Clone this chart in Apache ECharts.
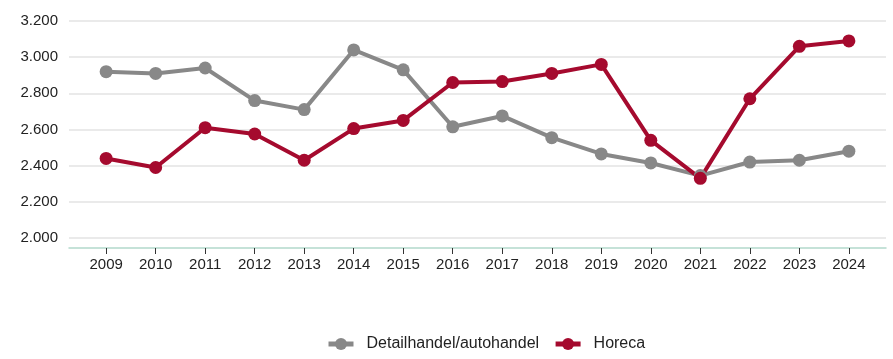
<!DOCTYPE html>
<html>
<head>
<meta charset="utf-8">
<script src="https://cdn.jsdelivr.net/npm/echarts@6/dist/echarts.min.js"></script>
<style>html,body{margin:0;padding:0;background:#fff}#c{width:893px;height:359px}</style>
</head>
<body>
<div id="c"></div>
<script>
const years = [2009,2010,2011,2012,2013,2014,2015,2016,2017,2018,2019,2020,2021,2022,2023,2024];
const detailhandel = [2920,2910,2940,2760,2710,3040,2930,2615,2675,2555,2465,2415,2345,2420,2430,2480];
const horeca = [2440,2390,2610,2575,2430,2605,2650,2860,2865,2910,2960,2540,2330,2770,3060,3090];
const yTicks = [2000,2200,2400,2600,2800,3000,3200];

const font = 'Liberation Sans, Arial, sans-serif';
const fmtY = v => String(v).replace(/\B(?=(\d{3})+(?!\d))/g, '.');
const pairs = arr => years.map((y, i) => [y, arr[i]]);

const chart = echarts.init(document.getElementById('c'), null, {renderer: 'canvas'});
chart.setOption({
  animation: false,
  textStyle: {fontFamily: font},
  grid: {left: 69, right: 7, top: 21, bottom: 121, containLabel: false},
  xAxis: {
    type: 'value',
    min: 2008.25,
    max: 2024.75,
    offset: 10,
    splitLine: {show: false},
    axisLine: {show: true, lineStyle: {color: '#b3d9cc', width: 1.5}},
    axisTick: {show: true, customValues: years, length: 6, lineStyle: {color: '#333', width: 1}},
    axisLabel: {customValues: years, formatter: v => String(v), color: '#222', fontSize: 15, margin: 9, fontFamily: font}
  },
  yAxis: {
    type: 'value',
    min: 2000,
    max: 3200,
    interval: 200,
    axisLine: {show: false},
    axisTick: {show: false},
    splitLine: {show: true, lineStyle: {color: '#e3e3e3', width: 1.5}},
    axisLabel: {formatter: fmtY, color: '#222', fontSize: 15, margin: 11, fontFamily: font}
  },
  legend: {
    top: 331,
    left: 321,
    padding: 5,
    itemWidth: 25,
    itemHeight: 15,
    itemGap: 14,
    lineStyle: {width: 5},
    textStyle: {fontSize: 16, color: '#222', fontFamily: font, padding: [0, 0, 0, 8]},
    data: ['Detailhandel/autohandel', 'Horeca']
  },
  series: [
    {
      name: 'Detailhandel/autohandel',
      type: 'line',
      data: pairs(detailhandel),
      symbol: 'circle',
      symbolSize: 13,
      lineStyle: {color: '#888888', width: 4},
      itemStyle: {color: '#888888'}
    },
    {
      name: 'Horeca',
      type: 'line',
      data: pairs(horeca),
      symbol: 'circle',
      symbolSize: 13,
      lineStyle: {color: '#a50a2e', width: 4},
      itemStyle: {color: '#a50a2e'}
    }
  ]
});
</script>
</body>
</html>
